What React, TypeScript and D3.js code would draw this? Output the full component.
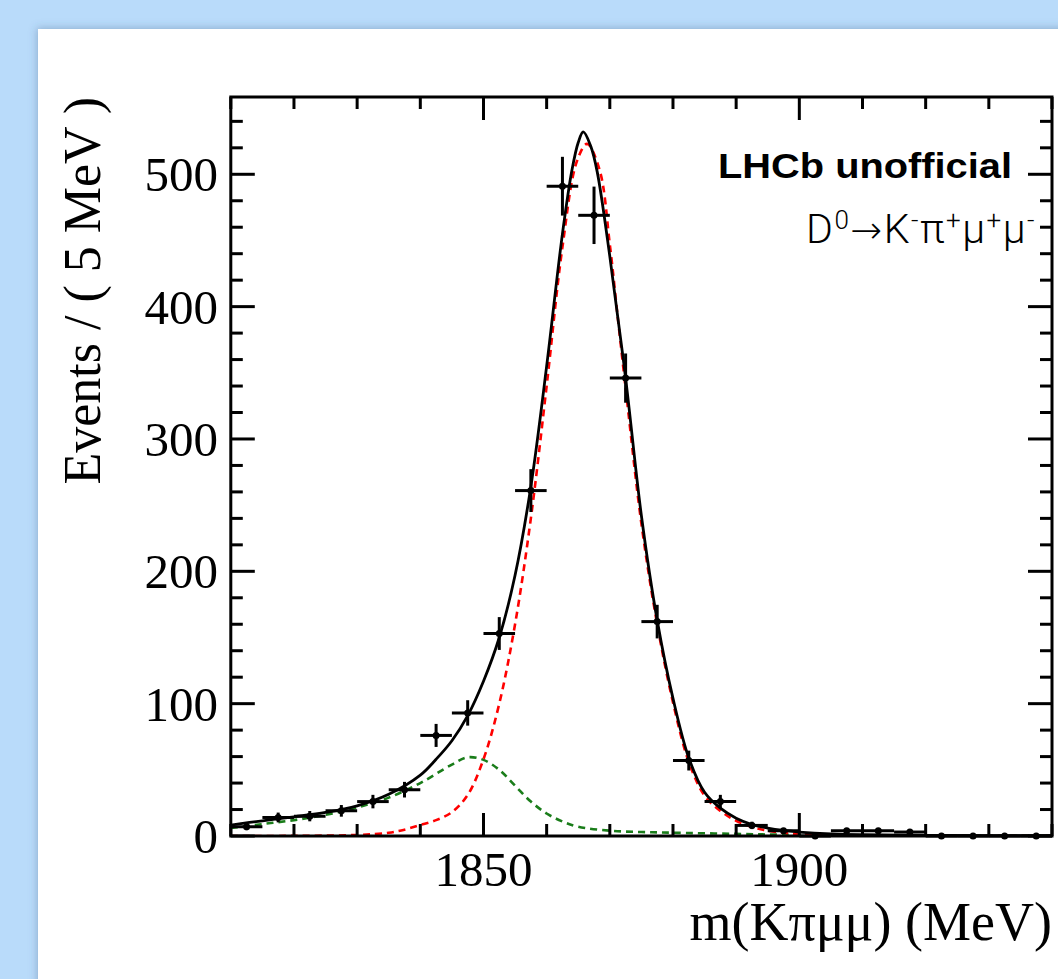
import React from "react";
import * as d3 from "d3";

// binned data, 5 MeV bins
const binCenters = [
  1812.5, 1817.5, 1822.5, 1827.5, 1832.5, 1837.5, 1842.5, 1847.5, 1852.5,
  1857.5, 1862.5, 1867.5, 1872.5, 1877.5, 1882.5, 1887.5, 1892.5, 1897.5,
  1902.5, 1907.5, 1912.5, 1917.5, 1922.5, 1927.5, 1932.5, 1937.5,
];
const binCounts = [
  7, 14, 15, 19, 26, 35, 76, 93, 153, 261, 491, 469, 346, 162, 57, 26, 8, 4,
  0, 4, 4, 3, 0, 0, 0, 0,
];
const binErrors = [
  2.6, 3.7, 3.9, 4.4, 5.1, 5.9, 8.7, 9.6, 12.4, 16.2, 22.2, 21.7, 18.6, 12.7,
  7.5, 5.1, 2.8, 2, 0.6, 2, 2, 1.7, 0.6, 0.6, 0.6, 0.6,
];

// fit curves: [mass, events]
const totalFit: [number, number][] = [
  [1810, 8.3], [1815, 11.5], [1820, 14.5], [1825, 17.8], [1830, 22.8],
  [1835, 31.5], [1840, 46], [1842.5, 58], [1845, 72], [1847.5, 91],
  [1850, 117], [1852.5, 150], [1855, 197], [1857.5, 264], [1860, 355],
  [1862.5, 455], [1864, 503], [1865, 524], [1865.8, 532], [1867, 521],
  [1868, 502], [1870, 438], [1872.5, 346], [1875, 242], [1877.5, 163],
  [1880, 104], [1882.5, 59], [1885, 33], [1887.5, 21], [1890, 13.5],
  [1892.5, 8.7], [1895, 6], [1897.5, 4.2], [1900, 3], [1905, 1.6],
  [1910, 1], [1920, 0.5], [1930, 0.3], [1940, 0.2],
];
const signalFit: [number, number][] = [
  [1810, 0], [1820, 0.1], [1830, 0.8], [1835, 2.5], [1837.5, 4.8],
  [1840, 8.3], [1842.5, 12], [1845, 18], [1847.5, 31], [1850, 58],
  [1852.5, 100], [1855, 160], [1857.5, 240], [1860, 340], [1862.5, 445],
  [1864.8, 510], [1866.4, 523], [1868.4, 503], [1870, 447], [1871.3, 390],
  [1872.7, 330], [1875, 236], [1877.5, 160], [1880, 101], [1882.5, 56],
  [1885, 30.5], [1887.5, 19], [1890, 11.5], [1892.5, 6.8], [1895, 4],
  [1897.5, 2.4], [1900, 1.4], [1910, 0.4], [1940, 0],
];
const bkgFit: [number, number][] = [
  [1810, 6], [1815, 9], [1820, 12], [1825, 16], [1830, 21.5], [1835, 29],
  [1840, 40], [1845, 54], [1847.5, 59.5], [1850, 57.5], [1852.5, 50],
  [1855, 38], [1857.5, 26], [1860, 17], [1862.5, 11], [1865, 7],
  [1870, 4], [1875, 3], [1880, 2.5], [1890, 1.6], [1900, 0.8],
  [1920, 0.3], [1940, 0.1],
];

const yLabels = [0, 100, 200, 300, 400, 500];
const xLabels = [1850, 1900];

const serif = "'Liberation Serif', 'Times New Roman', serif";
const sans = "'Liberation Sans', Arial, sans-serif";

export default function App() {
  const left = 230.8, right = 1052, top = 97, bottom = 836;
  const x = d3.scaleLinear().domain([1810, 1940]).range([left, right]);
  const y = d3.scaleLinear().domain([0, 558.4]).range([bottom, top]);
  const line = d3
    .line<[number, number]>()
    .x(d => x(d[0]))
    .y(d => y(d[1]))
    .curve(d3.curveCatmullRom.alpha(0.5));

  const xTicks = d3.range(1810, 1941, 10);
  const yTicks = d3.range(0, 559, 20);
  const halfBin = 2.5;
  const sup = {fontSize: 26, dy: -14};

  return (
    <div style={{position: "absolute", left: 0, top: 0}}>
      <svg width={1058} height={979} style={{display: "block"}}>
        <defs>
          <filter id="shadow" x="-10%" y="-10%" width="120%" height="120%">
            <feDropShadow dx={-1} dy={-1} stdDeviation={4} floodColor="#3a5a80" floodOpacity={0.35}/>
          </filter>
          <clipPath id="plot">
            <rect x={left} y={top} width={right - left} height={bottom - top}/>
          </clipPath>
        </defs>
        <rect width={1058} height={979} fill="#b9dbfa"/>
        <rect x={38} y={29} width={1060} height={990} fill="white" filter="url(#shadow)"/>

        {/* fit components */}
        <g clipPath="url(#plot)" fill="none">
          <path d={line(bkgFit) ?? ""} stroke="#1a7d1a" strokeWidth={2.6} strokeDasharray="7 5"/>
          <path d={line(signalFit) ?? ""} stroke="#ff0000" strokeWidth={2.6} strokeDasharray="7 5"/>
          <path d={line(totalFit) ?? ""} stroke="black" strokeWidth={2.8}/>
        </g>

        {/* data points */}
        <g stroke="black" strokeWidth={3}>
          {binCenters.map((m, i) => (
            <g key={m}>
              <line x1={x(m - halfBin)} x2={x(m + halfBin)} y1={y(binCounts[i])} y2={y(binCounts[i])}/>
              <line x1={x(m)} x2={x(m)} y1={y(binCounts[i] - binErrors[i])} y2={y(binCounts[i] + binErrors[i])}/>
              <circle cx={x(m)} cy={y(binCounts[i])} r={3.5} fill="black" stroke="none"/>
            </g>
          ))}
        </g>

        {/* frame and ticks */}
        <g stroke="black" strokeWidth={3} fill="none">
          <rect x={left} y={top} width={right - left} height={bottom - top}/>
          {xTicks.map(t => {
            const len = t % 50 === 0 ? 23 : 12;
            return (
              <g key={t}>
                <line x1={x(t)} x2={x(t)} y1={bottom} y2={bottom - len}/>
                <line x1={x(t)} x2={x(t)} y1={top} y2={top + len}/>
              </g>
            );
          })}
          {yTicks.map(t => {
            const len = t % 100 === 0 ? 24 : 12;
            return (
              <g key={t}>
                <line x1={left} x2={left + len} y1={y(t)} y2={y(t)}/>
                <line x1={right} x2={right - len} y1={y(t)} y2={y(t)}/>
              </g>
            );
          })}
        </g>

        {/* tick labels */}
        <g fontFamily={serif} fontSize={49} fill="black">
          {yLabels.map(t => (
            <text key={t} x={218} y={y(t) + 17} textAnchor="end">{t}</text>
          ))}
          {xLabels.map(t => (
            <text key={t} x={x(t)} y={886} textAnchor="middle">{t}</text>
          ))}
        </g>

        {/* axis titles */}
        <text x={1052} y={940} textAnchor="end" fontFamily={serif} fontSize={54}>
          m(Kπμμ) (MeV)
        </text>
        <text transform={`translate(100, ${top}) rotate(-90)`} textAnchor="end" fontFamily={serif} fontSize={52}>
          Events / ( 5 MeV )
        </text>

        {/* labels */}
        <text x={718} y={178} fontFamily={sans} fontWeight="bold" fontSize={35}
              textLength={294} lengthAdjust="spacingAndGlyphs">
          LHCb unofficial
        </text>
        <text x={1036} y={243} textAnchor="end" fontFamily="Roboto, 'Liberation Sans', sans-serif"
              fontWeight={300} fontSize={41} letterSpacing={1.5}>
          D<tspan fontSize={sup.fontSize} dy={sup.dy}>0</tspan>
          <tspan dy={-sup.dy} fontFamily="'DejaVu Sans', sans-serif" fontSize={38}>→</tspan>
          <tspan>K</tspan>
          <tspan fontSize={sup.fontSize} dy={sup.dy}>-</tspan>
          <tspan dy={-sup.dy}>π</tspan>
          <tspan fontSize={sup.fontSize} dy={sup.dy}>+</tspan>
          <tspan dy={-sup.dy}>μ</tspan>
          <tspan fontSize={sup.fontSize} dy={sup.dy}>+</tspan>
          <tspan dy={-sup.dy}>μ</tspan>
          <tspan fontSize={sup.fontSize} dy={sup.dy}>-</tspan>
        </text>
      </svg>
    </div>
  );
}
